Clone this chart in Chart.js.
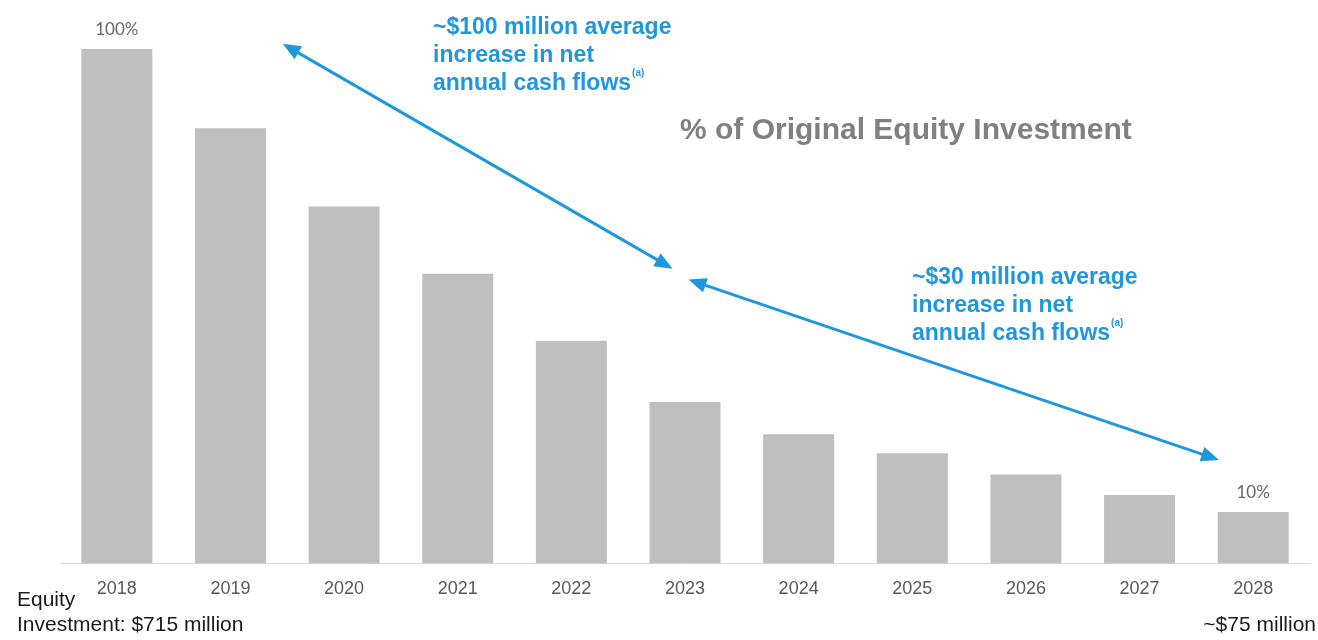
<!DOCTYPE html>
<html>
<head>
<meta charset="utf-8">
<script src="https://cdn.jsdelivr.net/npm/chart.js@4.4.1/dist/chart.umd.min.js"></script>
<style>
	html, body { margin: 0; padding: 0; background: #ffffff; }
	#wrap { position: relative; width: 1318px; height: 640px; }
</style>
</head>
<body>
<div id="wrap"><canvas id="chart" width="1318" height="640"></canvas></div>
<script>
// ---------------- data ----------------
const years = ["2018", "2019", "2020", "2021", "2022", "2023", "2024", "2025", "2026", "2027", "2028"];
const pct_of_equity = [100, 84.6, 69.4, 56.3, 43.3, 31.4, 25.1, 21.4, 17.3, 13.3, 10];
const bar_labels = ["100%", "", "", "", "", "", "", "", "", "", "10%"];

// arrows: [x index, y value] start -> end
const arrow_100 = [[1.46, 101], [4.89, 57.3]];
const arrow_30 = [[5.03, 55.2], [9.70, 20.1]];

const note_100 = ["~$100 million average", "increase in net", "annual cash flows"];
const note_30 = ["~$30 million average", "increase in net", "annual cash flows"];
const chart_title = "% of Original Equity Investment";
const start_note = ["Equity", "Investment: $715 million"];
const end_note = "~$75 million";

const blue = "#1f97dd";

function draw_arrow_head(ctx, x, y, angle) {
	const len = 18, half = 7.5;
	ctx.save();
	ctx.translate(x, y);
	ctx.rotate(angle);
	ctx.beginPath();
	ctx.moveTo(0, 0);
	ctx.lineTo(-len, -half);
	ctx.lineTo(-len, half);
	ctx.closePath();
	ctx.fill();
	ctx.restore();
}

function draw_arrow(ctx, xs, ys, pts) {
	const x1 = xs.getPixelForValue(pts[0][0]);
	const y1 = ys.getPixelForValue(pts[0][1]);
	const x2 = xs.getPixelForValue(pts[1][0]);
	const y2 = ys.getPixelForValue(pts[1][1]);
	const a = Math.atan2(y2 - y1, x2 - x1);
	ctx.strokeStyle = blue;
	ctx.fillStyle = blue;
	ctx.lineWidth = 3;
	ctx.beginPath();
	ctx.moveTo(x1 + Math.cos(a) * 12, y1 + Math.sin(a) * 12);
	ctx.lineTo(x2 - Math.cos(a) * 12, y2 - Math.sin(a) * 12);
	ctx.stroke();
	draw_arrow_head(ctx, x2, y2, a);
	draw_arrow_head(ctx, x1, y1, a + Math.PI);
}

function draw_note(ctx, lines, x, y) {
	ctx.font = "bold 23px 'Liberation Sans', Arial, sans-serif";
	ctx.fillStyle = blue;
	ctx.textAlign = "left";
	ctx.textBaseline = "middle";
	for (let i = 0; i < lines.length; i++) {
		ctx.fillText(lines[i], x, y + i * 28);
	}
	// superscript (a)
	const last = lines.length - 1;
	const w = ctx.measureText(lines[last]).width;
	ctx.font = "bold 10px 'Liberation Sans', Arial, sans-serif";
	ctx.fillText("(a)", x + w + 1, y + last * 28 - 11);
}

const annotations = {
	id: "annotations",
	afterDraw(chart) {
		const ctx = chart.ctx;
		const xs = chart.scales.x;
		const ys = chart.scales.y;
		ctx.save();

		// value labels over bars
		const meta = chart.getDatasetMeta(0);
		ctx.font = "17px Lato, sans-serif";
		ctx.fillStyle = "#666666";
		ctx.textAlign = "center";
		ctx.textBaseline = "bottom";
		meta.data.forEach(function (bar, i) {
			if (bar_labels[i]) {
				ctx.fillText(bar_labels[i], bar.x, bar.y - 11);
			}
		});

		draw_arrow(ctx, xs, ys, arrow_100);
		draw_arrow(ctx, xs, ys, arrow_30);

		draw_note(ctx, note_100, 433, 28);
		draw_note(ctx, note_30, 912, 278);

		// title
		ctx.font = "bold 30px 'Liberation Sans', Arial, sans-serif";
		ctx.fillStyle = "#808080";
		ctx.textAlign = "left";
		ctx.textBaseline = "middle";
		ctx.fillText(chart_title, 680, 131);

		// bottom notes
		ctx.font = "21px 'Liberation Sans', Arial, sans-serif";
		ctx.fillStyle = "#1a1a1a";
		ctx.fillText(start_note[0], 17, 600);
		ctx.fillText(start_note[1], 17, 625);
		ctx.textAlign = "right";
		ctx.fillText(end_note, 1316, 625);

		ctx.restore();
	},
};

const ctx = document.getElementById("chart").getContext("2d");

const myChart = new Chart(ctx, {
	type: "bar",
	data: {
		labels: years,
		datasets: [
			{
				label: chart_title,
				data: pct_of_equity,
				backgroundColor: "#bfbfbf",
				borderWidth: 0,
				categoryPercentage: 1,
				barPercentage: 0.625,
			},
		],
	},
	options: {
		responsive: false,
		animation: false,
		layout: {
			padding: { left: 60, right: 8, top: 49, bottom: 33 },
		},
		plugins: {
			legend: { display: false },
			tooltip: { enabled: false },
		},
		scales: {
			x: {
				grid: { display: false },
				border: { display: true, color: "#d9d9d9", width: 1 },
				ticks: {
					color: "#595959",
					padding: 7,
					font: { family: "'Liberation Sans', Arial, sans-serif", size: 18 },
				},
			},
			y: {
				display: false,
				min: 0,
				max: 100,
			},
		},
	},
	plugins: [annotations],
});
</script>
</body>
</html>
